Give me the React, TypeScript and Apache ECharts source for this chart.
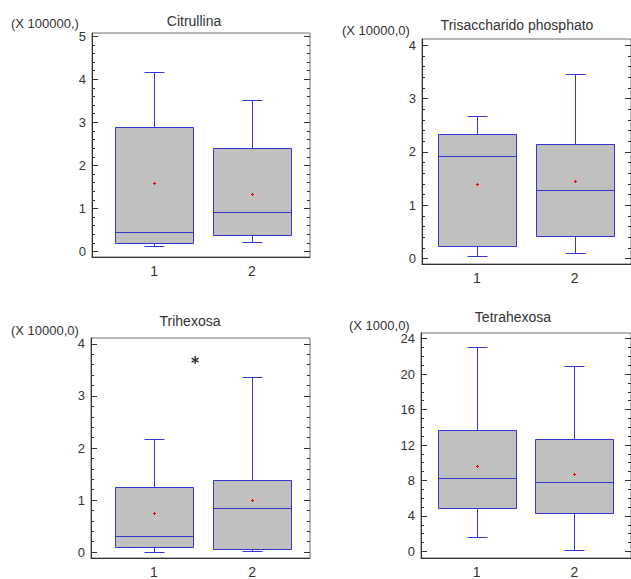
import React, { useEffect, useRef } from 'react';
import * as echarts from 'echarts';

// ---- data ----
const groupLabels = ['1', '2'];
const groupPositions = [1, 2];

// each box: [lower whisker, Q1, median, Q3, upper whisker]
const citrullinaBoxes = [
  [0.12, 0.19, 0.46, 2.9, 4.17],
  [0.22, 0.39, 0.92, 2.4, 3.53],
];
const citrullinaMeans = [1.58, 1.34];
const citrullinaTicks = [0, 1, 2, 3, 4, 5];

const trisaccharidoBoxes = [
  [0.056, 0.23, 1.92, 2.34, 2.68],
  [0.11, 0.43, 1.29, 2.14, 3.46],
];
const trisaccharidoMeans = [1.39, 1.45];
const trisaccharidoTicks = [0, 1, 2, 3, 4];

const trihexosaBoxes = [
  [0.0, 0.1, 0.3, 1.26, 2.17],
  [0.03, 0.063, 0.85, 1.39, 3.37],
];
const trihexosaMeans = [0.76, 0.995];
const trihexosaOutliers = [[1.42, 3.69]];
const trihexosaTicks = [0, 1, 2, 3, 4];

const tetrahexosaBoxes = [
  [1.57, 4.93, 8.25, 13.66, 23.07],
  [0.15, 4.29, 7.84, 12.73, 20.94],
];
const tetrahexosaMeans = [9.63, 8.7];
const tetrahexosaTicks = [0, 4, 8, 12, 16, 20, 24];

// ---- styling / layout ----
const FONT = '"Liberation Sans", Arial, sans-serif';
const TEXT = '#333333';
const AXIS = '#333333';
const FRAME = '#6e6e6e';
const BLUE = '#3535d0';
const BOX_FILL = '#c0c0c0';
const RED = '#e00000';
const BOX_WIDTH = 0.8;
const CAP_WIDTH = 0.2;

const panels = [
  {
    title: 'Citrullina', unit: '(X 100000,)',
    boxes: citrullinaBoxes, means: citrullinaMeans, outliers: [] as number[][],
    ticks: citrullinaTicks, minorDiv: 5,
    yMin: -0.13, yMax: 5.077, xMin: 0.367, xMax: 2.592,
    grid: { left: 92, top: 33, width: 218, height: 224 },
    titlePos: [194, 21], unitPos: [11, 23],
  },
  {
    title: 'Trisaccharido phosphato', unit: '(X 10000,0)',
    boxes: trisaccharidoBoxes, means: trisaccharidoMeans, outliers: [] as number[][],
    ticks: trisaccharidoTicks, minorDiv: 5,
    yMin: -0.1, yMax: 4.114, xMin: 0.437, xMax: 2.577,
    grid: { left: 422, top: 39, width: 210, height: 225 },
    titlePos: [517, 25], unitPos: [342, 30],
  },
  {
    title: 'Trihexosa', unit: '(X 10000,0)',
    boxes: trihexosaBoxes, means: trihexosaMeans, outliers: trihexosaOutliers,
    ticks: trihexosaTicks, minorDiv: 5,
    yMin: -0.113, yMax: 4.113, xMin: 0.36, xMax: 2.589,
    grid: { left: 91, top: 338, width: 219, height: 225 },
    titlePos: [190, 321], unitPos: [11, 330],
  },
  {
    title: 'Tetrahexosa', unit: '(X 1000,0)',
    boxes: tetrahexosaBoxes, means: tetrahexosaMeans, outliers: [] as number[][],
    ticks: tetrahexosaTicks, minorDiv: 4,
    yMin: -0.75, yMax: 24.64, xMin: 0.432, xMax: 2.58,
    grid: { left: 421, top: 333, width: 211, height: 227 },
    titlePos: [513, 317], unitPos: [349, 325],
  },
];

function minorTicks(majors: number[], div: number): number[] {
  const out: number[] = [];
  for (let i = 0; i < majors.length - 1; i++) {
    const step = (majors[i + 1] - majors[i]) / div;
    for (let k = 1; k < div; k++) out.push(Math.round((majors[i] + k * step) * 1e6) / 1e6);
  }
  return out;
}

function renderBox(params: any, api: any) {
  const x = api.value(0);
  const pLo = api.coord([x, api.value(1)]);
  const pQ1 = api.coord([x, api.value(2)]);
  const pMed = api.coord([x, api.value(3)]);
  const pQ3 = api.coord([x, api.value(4)]);
  const pHi = api.coord([x, api.value(5)]);
  const pMean = api.coord([x, api.value(6)]);
  const cx = Math.round(pLo[0]) + 0.5;
  const hw = Math.round(api.size([BOX_WIDTH, 0])[0] / 2);
  const cw = Math.round(api.size([CAP_WIDTH, 0])[0] / 2);
  const r = (v: number) => Math.round(v) + 0.5;
  const ls = { stroke: BLUE, lineWidth: 1, fill: 'none' };
  return {
    type: 'group',
    children: [
      { type: 'line', shape: { x1: cx, y1: r(pQ3[1]), x2: cx, y2: r(pHi[1]) }, style: ls },
      { type: 'line', shape: { x1: cx - cw, y1: r(pHi[1]), x2: cx + cw, y2: r(pHi[1]) }, style: ls },
      { type: 'line', shape: { x1: cx, y1: r(pQ1[1]), x2: cx, y2: r(pLo[1]) }, style: ls },
      { type: 'line', shape: { x1: cx - cw, y1: r(pLo[1]), x2: cx + cw, y2: r(pLo[1]) }, style: ls },
      {
        type: 'rect',
        shape: { x: cx - hw, y: r(pQ3[1]), width: 2 * hw, height: r(pQ1[1]) - r(pQ3[1]) },
        style: { fill: BOX_FILL, stroke: BLUE, lineWidth: 1 },
      },
      { type: 'line', shape: { x1: cx - hw, y1: r(pMed[1]), x2: cx + hw, y2: r(pMed[1]) }, style: ls },
      { type: 'line', shape: { x1: cx - 1.5, y1: r(pMean[1]), x2: cx + 1.5, y2: r(pMean[1]) }, style: { stroke: RED, lineWidth: 1 } },
      { type: 'line', shape: { x1: cx, y1: r(pMean[1]) - 1.5, x2: cx, y2: r(pMean[1]) + 1.5 }, style: { stroke: RED, lineWidth: 1 } },
    ],
  };
}

function renderStar(params: any, api: any) {
  const p = api.coord([api.value(0), api.value(1)]);
  const s = 4;
  const st = { stroke: '#333333', lineWidth: 1.4 };
  const dx = s * Math.cos(Math.PI / 6);
  const dy = s * Math.sin(Math.PI / 6);
  return {
    type: 'group',
    children: [
      { type: 'line', shape: { x1: p[0], y1: p[1] - s, x2: p[0], y2: p[1] + s }, style: st },
      { type: 'line', shape: { x1: p[0] - dx, y1: p[1] - dy, x2: p[0] + dx, y2: p[1] + dy }, style: st },
      { type: 'line', shape: { x1: p[0] - dx, y1: p[1] + dy, x2: p[0] + dx, y2: p[1] - dy }, style: st },
    ],
  };
}

function buildOption() {
  const grid: any[] = [];
  const xAxis: any[] = [];
  const yAxis: any[] = [];
  const series: any[] = [];
  const graphic: any[] = [];

  panels.forEach((p, i) => {
    grid.push({ ...p.grid, show: true, borderColor: FRAME, borderWidth: 1, backgroundColor: 'transparent' });
    xAxis.push({
      gridIndex: i, type: 'value', min: p.xMin, max: p.xMax,
      axisLine: { show: true, onZero: false, lineStyle: { color: AXIS, width: 1 } },
      axisTick: { show: false },
      splitLine: { show: false },
      axisLabel: {
        customValues: groupPositions,
        formatter: (v: number) => groupLabels[groupPositions.indexOf(Number(v))] ?? '',
        color: TEXT, fontSize: 14, fontFamily: FONT, margin: 7,
      },
    });
    const minors = minorTicks(p.ticks, p.minorDiv);
    const base = { gridIndex: i, type: 'value', min: p.yMin, max: p.yMax, splitLine: { show: false } };
    yAxis.push({
      ...base, position: 'left',
      axisLine: { show: true, onZero: false, lineStyle: { color: AXIS, width: 1 } },
      axisTick: { show: true, inside: true, length: 6, customValues: p.ticks, lineStyle: { color: AXIS } },
      axisLabel: { customValues: p.ticks, color: TEXT, fontSize: 13, fontFamily: FONT, margin: 6 },
    });
    yAxis.push({
      ...base, position: 'left',
      axisLine: { show: false, onZero: false },
      axisTick: { show: true, inside: true, length: 3, customValues: minors, lineStyle: { color: AXIS } },
      axisLabel: { show: false },
    });
    yAxis.push({
      ...base, position: 'right',
      axisLine: { show: false, onZero: false },
      axisTick: { show: true, inside: true, length: 6, customValues: p.ticks, lineStyle: { color: AXIS } },
      axisLabel: { show: false },
    });
    yAxis.push({
      ...base, position: 'right',
      axisLine: { show: false, onZero: false },
      axisTick: { show: true, inside: true, length: 3, customValues: minors, lineStyle: { color: AXIS } },
      axisLabel: { show: false },
    });
    series.push({
      type: 'custom', name: p.title, xAxisIndex: i, yAxisIndex: i * 4,
      renderItem: renderBox, clip: false,
      encode: { x: 0, y: [1, 2, 3, 4, 5, 6] },
      data: p.boxes.map((b, k) => [groupPositions[k], ...b, p.means[k]]),
    });
    if (p.outliers.length) {
      series.push({
        type: 'custom', name: p.title + ' outliers', xAxisIndex: i, yAxisIndex: i * 4,
        renderItem: renderStar, clip: false,
        encode: { x: 0, y: 1 },
        data: p.outliers,
      });
    }
    graphic.push({
      type: 'text', x: p.titlePos[0], y: p.titlePos[1],
      style: { text: p.title, fill: TEXT, font: `14px ${FONT}`, textAlign: 'center', textVerticalAlign: 'middle' },
    });
    graphic.push({
      type: 'text', x: p.unitPos[0], y: p.unitPos[1],
      style: { text: p.unit, fill: TEXT, font: `13px ${FONT}`, textAlign: 'left', textVerticalAlign: 'middle' },
    });
  });

  return { animation: false, backgroundColor: '#ffffff', grid, xAxis, yAxis, series, graphic };
}

export default function App() {
  const ref = useRef<HTMLDivElement>(null);
  useEffect(() => {
    if (!ref.current) return;
    const chart = echarts.init(ref.current, undefined, { renderer: 'svg' });
    chart.setOption(buildOption() as any);
    return () => chart.dispose();
  }, []);
  return <div ref={ref} style={{ position: 'absolute', left: 0, top: 0, width: 631, height: 579 }} />;
}
